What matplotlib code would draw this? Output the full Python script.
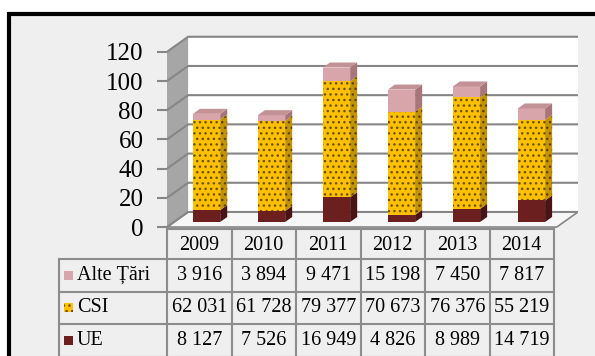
import matplotlib
matplotlib.use("Agg")
from matplotlib import pyplot as plt
from matplotlib.patches import Polygon, Rectangle

plt.rcParams['font.family'] = ['Liberation Serif', 'DejaVu Serif']

# Data (thousands in chart, raw numbers in table)
years = ["2009", "2010", "2011", "2012", "2013", "2014"]
alte = [3916, 3894, 9471, 15198, 7450, 7817]
csi = [62031, 61728, 79377, 70673, 76376, 55219]
ue = [8127, 7526, 16949, 4826, 8989, 14719]
y_ticks = [0, 20, 40, 60, 80, 100, 120]

series = [
    # name, values, front colour, side colour, top colour, hatch
    ("UE", ue, "#6b1f1f", "#4a1414", "#5a1a1a", None),
    ("CSI", csi, "#ffc000", "#c49300", "#e0aa00", "..."),
    ("Alte Țări", alte, "#d8a6aa", "#a87579", "#c39296", None),
]
table_rows = [series[2], series[1], series[0]]

W, H = 595, 356
fig = plt.figure(figsize=(W / 100, H / 100), dpi=100)
fig.patch.set_facecolor("white")

# background axes in pixel coords: frame + data table
bg = fig.add_axes([0, 0, 1, 1], zorder=0)
bg.set_xlim(0, W)
bg.set_ylim(H, 0)
bg.axis("off")
bg.add_patch(Rectangle((9, 14), W, H, facecolor="#efefef", edgecolor="black", lw=3))

# chart axes
DX, DY = 0.325, 10.3          # depth of the 3d box in data units
px_per_unit = 1.46
y0_px = 227
ylo, yhi = -3, 132
ax_bottom = (H - (y0_px - ylo * px_per_unit)) / H
ax_height = (yhi - ylo) * px_per_unit / H
ax = fig.add_axes([167 / W, ax_bottom, 411 / W, ax_height], zorder=1)
ax.patch.set_alpha(0)
n = len(years)
ax.set_xlim(-0.5, n - 0.5 + DX)
ax.set_ylim(ylo, yhi)
for s in ax.spines.values():
    s.set_visible(False)
ax.set_xticks([])
ax.set_yticks(y_ticks)
ax.tick_params(axis="y", direction="out", length=7, width=1.5, color="#868686",
               labelsize=18, pad=10)

grid_c = "#868686"
top = y_ticks[-1]
xl, xr = -0.5, n - 0.5
# back wall
ax.add_patch(Polygon([(xl + DX, DY), (xr + DX, DY), (xr + DX, top + DY), (xl + DX, top + DY)],
                     closed=True, facecolor="white", edgecolor="none", zorder=1))
# left wall
ax.add_patch(Polygon([(xl, 0), (xl + DX, DY), (xl + DX, top + DY), (xl, top)],
                     closed=True, facecolor="#a6a6a6", edgecolor="none", zorder=1))
# floor
ax.add_patch(Polygon([(xl, 0), (xr, 0), (xr + DX, DY), (xl + DX, DY)],
                     closed=True, facecolor="#f7f7f7", edgecolor=grid_c, lw=1.2, zorder=2))
for v in y_ticks:
    ax.plot([xl, xl + DX, xr + DX], [v, v + DY, v + DY], color=grid_c, lw=1.5, zorder=2,
            solid_capstyle="butt")

# 3d stacked bars
hw = 0.21
fx, fy = DX / 3, DY / 3
for i in range(n):
    bottom = 0.0
    for k, (name, vals, fc, sc, tc, hatch) in enumerate(series):
        h = vals[i] / 1000
        x_l = i + fx - hw
        x_r = i + fx + hw
        ax.bar(i + fx, h, bottom=bottom + fy, width=2 * hw, color=fc, hatch=hatch,
               edgecolor="#6e5200" if hatch else fc, lw=0, zorder=3)
        ax.add_patch(Polygon([(x_r, bottom + fy), (x_r + fx, bottom + 2 * fy),
                              (x_r + fx, bottom + h + 2 * fy), (x_r, bottom + h + fy)],
                             closed=True, facecolor=sc, hatch=hatch,
                             edgecolor="#5c4400" if hatch else sc, lw=0, zorder=3))
        bottom += h
        if k == len(series) - 1:
            ax.add_patch(Polygon([(x_l, bottom + fy), (x_r, bottom + fy),
                                  (x_r + fx, bottom + 2 * fy), (x_l + fx, bottom + 2 * fy)],
                                 closed=True, facecolor=tc, edgecolor="none", zorder=3))

# data table (pixel coords)
line_c = "#8c8c8c"
col_x = [167 + 64.5 * j for j in range(n + 1)]
row_y = [229, 259, 292, 324, 357]
leg_x = 59
tfs = 14.5
bg.plot([col_x[0], col_x[-1]], [row_y[0], row_y[0]], color=line_c, lw=1.5)
for yy in row_y[1:]:
    bg.plot([leg_x, col_x[-1]], [yy, yy], color=line_c, lw=1.5)
for xx in col_x:
    bg.plot([xx, xx], [row_y[0], H], color=line_c, lw=1.5)
bg.plot([leg_x, leg_x], [row_y[1], H], color=line_c, lw=1.5)

for j, yr in enumerate(years):
    bg.text((col_x[j] + col_x[j + 1]) / 2, (row_y[0] + row_y[1]) / 2 + 1, yr,
            ha="center", va="center", fontsize=tfs)
for r, (name, vals, fc, sc, tc, hatch) in enumerate(table_rows):
    yc = (row_y[r + 1] + row_y[r + 2]) / 2
    bg.add_patch(Rectangle((64, yc - 5), 9, 9, facecolor=fc, hatch=hatch,
                           edgecolor="#6e5200" if hatch else fc, lw=0))
    bg.text(77, yc, name, ha="left", va="center", fontsize=tfs)
    for j, v in enumerate(vals):
        bg.text((col_x[j] + col_x[j + 1]) / 2, yc, f"{v:,}".replace(",", " "),
                ha="center", va="center", fontsize=tfs)

plt.savefig("out.png", dpi=100)
plt.close()
